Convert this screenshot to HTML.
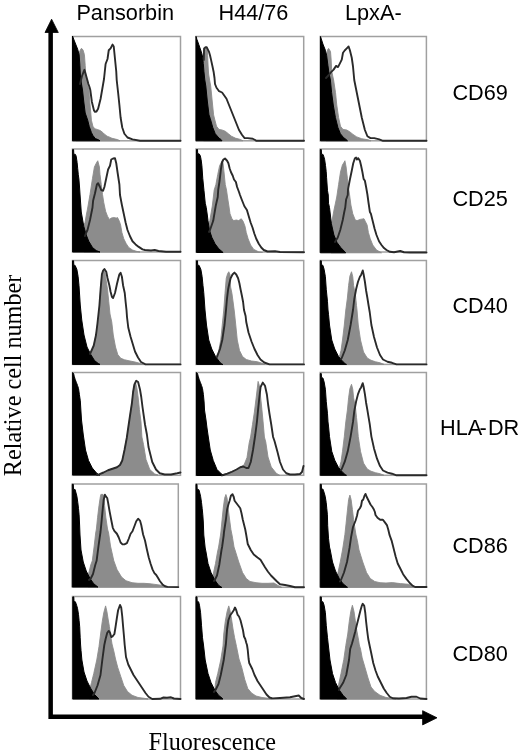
<!DOCTYPE html>
<html><head><meta charset="utf-8"><style>
html,body{margin:0;padding:0;background:#fff;width:520px;height:751px;overflow:hidden}
svg{display:block;filter:grayscale(1)}
.s{font-family:"Liberation Sans",sans-serif;font-size:21.7px;fill:#000}
.r{font-family:"Liberation Serif",serif;font-size:24.2px;fill:#000}
.bx{fill:none;stroke:#a0a0a0;stroke-width:1.5}
.g{fill:#8c8c8c;stroke:#8c8c8c;stroke-width:0.9;stroke-linejoin:round}
.k{fill:#000;stroke:#000;stroke-width:1;stroke-linejoin:round}
.o{fill:none;stroke:#2a2a2a;stroke-width:1.9;stroke-linejoin:round;stroke-linecap:round}
</style></head><body>
<svg width="520" height="751" viewBox="0 0 520 751">
<text class="s" x="76.4" y="19.7">Pansorbin</text>
<text class="s" x="218.5" y="19.7">H44/76</text>
<text class="s" x="345" y="19.7">LpxA-</text>
<text class="s" x="452.4" y="99.5">CD69</text>
<text class="s" x="452.4" y="206.1">CD25</text>
<text class="s" x="452.4" y="312.5">CD40</text>
<text class="s" x="440" y="434.8">HLA</text><text class="s" x="479.5" y="434.8">-</text><text class="s" x="487.9" y="434.8">DR</text>
<text class="s" x="452.4" y="552.6">CD86</text>
<text class="s" x="452.4" y="661.3">CD80</text>
<text class="r" x="148.5" y="749.5">Fluorescence</text>
<text class="r" transform="translate(20.8,476.2) rotate(-90)" x="0" y="0">Relative cell number</text>
<!-- axes -->
<path d="M50.65,718.9 L50.65,30 M48.4,716.65 L424,716.65" stroke="#000" stroke-width="4.5" fill="none"/>
<path d="M51.6,19.2 L45,32.5 L58.3,32.5 Z" fill="#000" stroke="#000" stroke-width="0.8" stroke-linejoin="round"/>
<path d="M437,717.8 L422.6,710.7 L422.6,724.9 Z" fill="#000" stroke="#000" stroke-width="0.8" stroke-linejoin="round"/>
<!-- panels -->
<g id="boxes">
<rect class="bx" x="72.5" y="36.5" width="108" height="104.3"/>
<rect class="bx" x="196" y="36.5" width="107.7" height="104.3"/>
<rect class="bx" x="320.2" y="36.5" width="106.2" height="104.3"/>
<rect class="bx" x="72.5" y="149" width="108" height="103"/>
<rect class="bx" x="196" y="149" width="107.7" height="103"/>
<rect class="bx" x="320.2" y="149" width="106.2" height="103"/>
<rect class="bx" x="72.5" y="260.5" width="108" height="103.9"/>
<rect class="bx" x="196" y="260.5" width="107.7" height="103.9"/>
<rect class="bx" x="320.2" y="260.5" width="106.2" height="103.9"/>
<rect class="bx" x="72.5" y="372.5" width="108" height="102.8"/>
<rect class="bx" x="196" y="372.5" width="107.7" height="102.8"/>
<rect class="bx" x="320.2" y="372.5" width="106.2" height="102.8"/>
<rect class="bx" x="72.2" y="484" width="106.1" height="103.1"/>
<rect class="bx" x="196" y="484" width="107.7" height="103.3"/>
<rect class="bx" x="320.2" y="484" width="106.2" height="103.1"/>
<rect class="bx" x="72.5" y="596.5" width="108" height="102.5"/>
<rect class="bx" x="196" y="596.5" width="107.7" height="102.5"/>
<rect class="bx" x="320.2" y="596.5" width="106.2" height="102.5"/>
</g>
<!-- HISTOGRAMS -->
<g id="r3c1">
<path class="g" d="M89,364.4 L89,354 L90.75,353 L93.75,345.5 L96,335 L98.25,320 L99.75,305 L100.6,289.25 L101.9,274.25 L103.1,270.8 L103.75,270 L104.8,271.5 L105.6,276.75 L107.5,289.25 L108.75,301.75 L110,314 L111.75,322 L113.25,335 L115.5,347 L117.75,354.5 L120.75,358.25 L124.5,359.75 L129,360.8 L135,362 L139.5,363.2 L143,364.4 Z"/>
<path class="k" d="M72.5,364.4 L72.5,260.8 L73.6,260.8 L73.8,265.2 L75.1,265.4 L76.9,269.5 L78.1,276.5 L79,285.7 L80.25,305 L81.75,320 L84,335 L87,347 L90.75,354.5 L94.5,360.5 L98.25,363.5 L100,364.4 Z"/>
<path class="o" d="M90,354 L93.75,345.5 L96,335 L97.5,323 L99.4,305.5 L100.6,289.25 L101.9,274.25 L103.1,270.5 L104.4,269 L106.25,271.75 L107.5,278 L109.4,285.5 L110.6,291.75 L111.9,296.75 L113.1,298 L115,293 L116.9,284.25 L118.1,279.25 L119.4,274.25 L120.6,272.75 L121.9,276.75 L123.1,285.5 L124.75,293 L125.6,301.75 L126.5,310 L127,317 L128.25,327.5 L130.5,336.5 L132.75,344 L135,351.5 L138,357.5 L141,362 L145.5,364.4 L180.5,364.4"/>
</g>
<g id="r3c2">
<path class="g" d="M216,364.4 L216.25,356.5 L218.5,352 L220.75,340 L222.25,325 L223.75,310 L225,293.25 L226.25,278.25 L227.5,274 L228.75,271.75 L230,274.5 L230.6,287 L231.9,293.25 L233.1,302 L234.4,312 L235.75,325 L237.25,340 L239.5,350.5 L242.5,356.5 L246.25,359.5 L251.5,361 L257.5,361.75 L262,363.25 L265,364.4 Z"/>
<path class="k" d="M196.5,364.4 L196.5,260.8 L197.5,260.8 L197.7,265.2 L199.1,265.4 L200.9,269.5 L202.1,276.5 L203,285.7 L203.75,292.5 L205,310 L206.5,325 L208.75,340 L211.75,349 L215.5,356.5 L220,362.5 L222.25,364.4 L223,364.4 Z"/>
<path class="o" d="M217,357 L217.75,355 L220,349 L222.25,340 L224.5,325 L226,310 L226.9,299.5 L228.1,289.5 L229.4,283.25 L230.6,278.25 L232.5,274.5 L234.4,272.6 L236.25,274.5 L238.1,278.25 L239.4,283.25 L240.6,289.5 L241.9,295.75 L243.1,302 L244,310 L245.6,316 L246.25,322 L248.5,332.5 L251.5,341.5 L254.5,349 L257.5,355 L260.5,359.5 L264.25,362.5 L269.5,364.4 L304,364.4"/>
</g>
<g id="r3c3">
<path class="g" d="M339,364.4 L339.5,356.5 L341,350.5 L342.5,340 L344.3,325 L345.8,310 L347.4,298 L348.6,285.5 L349.9,276.1 L351.5,271.75 L352.75,276.75 L353.6,285.5 L355.5,295.5 L356.5,305.5 L357,310 L358.25,325 L360.5,340 L363.5,352 L367.25,358 L371,360.25 L375.5,361.75 L380,362.8 L384,364.4 Z"/>
<path class="k" transform="translate(0.5,0)" d="M319.8,364.4 L319.8,260.8 L320.8,260.8 L321,264.9 L322.4,265.3 L323.6,269.25 L324.9,276.75 L325.75,289.25 L327,301.75 L327.5,310 L328,314.25 L329,325 L331.25,340 L334.25,349 L338,356.5 L342.5,361.75 L345.5,364.4 L346,364.4 Z"/>
<path class="o" d="M341,359 L341.75,358 L344.75,350.5 L347.75,340 L350.6,325 L353,310 L354.25,299.25 L356.1,289.25 L358,281.75 L359.9,276.75 L361.1,274.9 L362.75,270.5 L363.6,274.25 L364.9,281.75 L366.1,290.5 L367.4,298 L368.6,305.5 L369.7,312 L371.4,325 L374,337 L377,347.5 L380,355 L383,359.5 L387.5,361.75 L392,362.8 L396.5,364.4 L426.5,364.4"/>
</g>
<g id="r4c1">
<path class="g" d="M100,475 L103.5,472.5 L108,470.25 L112.5,468.75 L117,467.25 L120,465 L122.25,460.5 L124.5,450 L126.75,438 L128.75,425.75 L130,415.75 L131.9,403.25 L133.1,392 L134.4,385 L135.6,383 L136.9,388.25 L138.1,397 L139.4,409.5 L141,422 L141.9,437 L143.5,444.5 L146,459.5 L149.75,469.5 L154.75,474 L158,475 Z"/>
<path class="k" d="M72.6,475 L72.6,372.6 L73.6,373.5 L74.2,376.2 L75.1,379.2 L76.3,382.3 L77.5,385.4 L78.5,388.5 L79.4,394.6 L80.3,400.8 L81.5,420 L83.3,435 L85.5,450 L88.5,460.5 L92.25,468 L96.75,473.25 L99,474.75 L100,475 Z"/>
<path class="o" d="M97,475 L99,474.3 L103.5,472.5 L108,470.25 L112.5,468.75 L117,467.25 L120,465 L122.25,460.5 L124.5,450 L126.75,438 L128.25,427.5 L130,415.75 L131.9,403.25 L133.1,392 L134.4,384.5 L136.25,380.75 L138.1,382 L140,389.5 L141.25,397 L142.5,407 L143.75,415.75 L145,424.5 L146.9,434.5 L148.5,447 L152.25,462 L156,469.5 L159.75,473.25 L164.75,474.5 L171,474.5 L177.25,473.25 L180.5,472.5"/>
</g>
<g id="r4c2">
<path class="g" d="M222,475.5 L224.5,474.3 L229,472.5 L235,470.25 L239.5,468 L244,465 L247,457.5 L249.25,442.5 L250.6,437 L252.5,424.5 L254.4,412 L256.25,397 L258.1,381.4 L259.4,385.75 L260.6,397 L261.9,409.5 L263.1,422 L264.4,437 L265.75,442 L268,457 L271.25,467 L276.25,473.25 L280,475.5 Z"/>
<path class="k" d="M196.5,475.5 L196.5,372.6 L197.5,373.5 L198.2,376.2 L199.1,379.2 L200.3,382.3 L201.5,385.4 L202.5,388.5 L203.4,394.6 L204.1,402 L204.5,410 L206,420 L207,428 L208,435 L210.25,450 L213.25,460.5 L217,469.5 L221.5,474 L223.75,475.2 L224,475.5 Z"/>
<path class="o" d="M222,475.5 L223.75,474.75 L227.5,473.7 L232,471.75 L236.5,469.5 L240.25,467.25 L243.25,466.5 L246.25,468 L248.5,468 L250.75,462 L253,450 L255.25,435 L256.9,422 L258.1,409.5 L259.4,397 L260.6,387 L262.75,382.6 L265,385.75 L266.9,394.5 L268.1,404.5 L269.4,413.25 L271.25,424.5 L273.1,437 L274.5,441 L277.5,452 L280,462 L283,469.5 L286.25,473.25 L290,474.5 L295,474.5 L300,474 L302,472 L303.5,466"/>
</g>
<g id="r4c3" transform="matrix(1,0,0,0.982,0,117.46)">
<use href="#r3c3"/>
</g>
<g id="r5c1">
<path class="g" d="M88,587 L88,576 L88.5,574 L90.75,565 L92.3,560.8 L94.2,546 L95.7,533 L96.4,529 L97.6,517.3 L99,505.6 L100.3,497 L100.9,494.4 L103,494.4 L104,497 L104.6,505.6 L105.8,517.3 L107.5,529 L108.6,533 L110.5,546 L113.8,560.8 L117,569.5 L121.5,577 L126,580.75 L132,582.7 L138,583.3 L144,583.3 L150,583.75 L155,584.4 L161,585.2 L166,586.3 L168,587 Z"/>
<path class="k" d="M72.3,587 L72.3,484.3 L73.3,484.3 L73.5,489.3 L75.1,489.5 L76.9,496.3 L77.8,502.5 L78.5,508.6 L79.1,514.8 L79.6,525 L80,535 L81,550 L83.25,562 L86.25,571 L90,578.5 L93.75,583.75 L97.5,586.75 L98,587 Z"/>
<path class="o" d="M89,580 L90.75,578.5 L93,574 L95.25,565 L96.6,560.8 L98.5,546 L100.5,532 L101.4,523.1 L102.5,511.4 L103.7,499.7 L104.9,494.7 L106.25,496.9 L107.2,498 L108.1,502.6 L109.6,511.4 L111.3,520.2 L112.8,527.8 L114.3,530.8 L116.9,533.75 L118.75,537.5 L120.6,542.5 L122.5,544.4 L124.4,544.4 L126.9,543.1 L128.75,538.75 L130.6,533.75 L132.5,531.25 L134.4,526.25 L136.25,521.25 L138.1,518.75 L140,520.6 L141.25,525 L143.1,534.5 L145,540.5 L146.9,549.5 L148.75,557.5 L150.6,563.75 L152.5,569.4 L154.4,573.1 L156.25,575 L158.1,578.1 L160,581.25 L162.5,584.4 L165,586.25 L167.5,586.9 L178.3,587.1"/>
</g>
<g id="r5c2">
<path class="g" d="M212,587.5 L212.5,578 L213.25,574 L215.5,563.5 L217.5,552 L218.6,547 L220.5,535 L220.9,532 L222.1,519.5 L223.4,507 L224.6,498.25 L225.9,494.5 L227.1,498.25 L228,507 L229.25,517 L230.9,529.5 L232,535 L232.6,538.25 L234,547 L235,550 L238.75,562 L242.5,572.5 L246.25,578.5 L250,581.5 L256,582.7 L262,583.3 L268,583.3 L274,583 L278,585.5 L282,587.5 Z"/>
<path class="k" d="M196,587.5 L196,484.3 L197,484.3 L197.2,489.3 L198.6,489.5 L199.1,490.2 L200.6,496.3 L201.5,502.5 L202.2,508.6 L202.8,514.8 L203.3,522 L203.8,535 L205.2,548 L206,552 L208,563.5 L211,572.5 L214.75,580 L218.5,585.25 L221.5,587.2 L222,587.5 Z"/>
<path class="o" d="M214,581 L214.75,580 L217,575.5 L219.25,565 L221.5,550 L222.1,547 L223.75,535 L224,532 L225.9,519.5 L227.1,509.5 L228.4,504.5 L229.6,500.75 L230.9,495.75 L232.5,494.25 L233.75,497 L234.6,500.75 L236.5,503.25 L238.4,505.75 L240.25,508.25 L241.5,513.25 L242.75,519.5 L244,524.5 L245.25,529.5 L246.25,535 L247.75,544 L250.75,550 L253.75,554.5 L257.5,557.5 L260.5,559.75 L262.75,563.5 L265,567.25 L268,571.75 L271,575.5 L274,578.5 L277,581.5 L280,584.25 L285,585 L290,586 L295,587.25 L304,587.3"/>
</g>
<g id="r5c3">
<path class="g" d="M337,587.3 L338,572.5 L340.25,562 L342.5,550 L343,547 L344.9,534.5 L346.1,523.25 L347.4,510.75 L348.6,499.5 L349.9,495.1 L351.1,499.5 L352.4,509.5 L353.6,519.5 L355.5,532 L356,535 L357.4,540.75 L359,550 L362.75,562 L366.5,572.5 L370.25,578.5 L374.75,581.5 L380,582.7 L386,583 L392.3,582.6 L400.4,583.6 L408.5,584.3 L412.5,586.3 L415,587.3 Z"/>
<path class="k" transform="translate(0.5,0)" d="M319.8,587.3 L319.8,484.3 L320.8,484.3 L321,489 L322.5,489.2 L322.9,490.2 L324.7,496.3 L325.7,502.5 L326.3,508.6 L326.9,514.8 L327.2,525.75 L328,538.25 L329,547 L329.75,550 L332,562 L335,571 L338.75,578.5 L342.5,583.75 L346.25,586.75 L347,587.3 Z"/>
<path class="o" d="M340,581.5 L341,580 L344,572.5 L347,562 L349.5,548 L351.1,537 L353,527 L355.5,520.75 L357,515.75 L358,510.75 L359.9,508.25 L361.1,505.75 L362,500.75 L363.25,499.5 L364.5,495.75 L365.5,493.9 L366.75,497 L368,499.5 L369.25,502 L370.5,504.5 L372.4,507 L373.6,508.9 L374.9,512 L375.5,515 L377.5,517.7 L380.2,519.7 L382.9,519.7 L384.9,522.4 L386.9,525.1 L388.3,529.8 L389.6,535.2 L391.6,540.6 L393,546 L394.3,551.3 L395.7,556.7 L397.7,563.5 L400.4,568.8 L403.1,574.2 L406.4,578.9 L409.8,583 L412.5,585.7 L415.2,587 L426.5,587"/>
</g>
<g id="r6c1">
<path class="g" d="M89,699 L90,688.5 L91.5,682.5 L93.75,673.5 L96.75,660 L99,646.5 L100.6,634 L102.25,621.5 L103.75,612.75 L105.6,605.9 L106.9,611.5 L108.1,619 L109.4,626.5 L110.6,635.25 L112,644 L114,652 L115.5,659 L117.75,667.5 L120.75,676.5 L123.75,685.5 L127.5,691.5 L132,695.25 L138,697.5 L144,698.25 L148,699 Z"/>
<path class="k" d="M72.8,699 L72.8,596.9 L73.8,596.9 L74,601.6 L75.4,601.8 L76.6,605.2 L77.5,608.3 L78.5,614.5 L79.1,620.6 L79.7,626.8 L80.2,637.75 L80.6,645 L81,650.25 L81.9,660 L84,672 L87,681 L90.75,688.5 L94.5,694.5 L98.25,698.25 L99,699 Z"/>
<path class="o" d="M93,695 L94.5,693 L97.5,685.5 L100.5,675 L102.3,660 L104.3,645 L105.6,639 L107.25,632.75 L108.75,630.9 L110,632.75 L111.25,637.1 L112.5,636.5 L114.4,634 L115.6,626.5 L116.9,617.75 L118.1,610.25 L120,605 L121.25,607.75 L122.25,616.5 L123.1,626.5 L124,636.5 L124.7,645 L126,657 L128.25,664.5 L131.25,670.5 L133.5,675 L136.5,679.5 L139.5,684 L142.5,688.5 L145.5,693 L148.5,696.75 L152.25,699 L160,698.8 L163.5,697.5 L167,697.8 L171,697.3 L174,698.5 L180.5,699"/>
</g>
<g id="r6c2">
<path class="g" d="M214,699 L215.5,682.5 L217.75,673.5 L220.75,660 L223,646 L223.75,634 L225.25,621.5 L227.1,611.5 L228.75,605.9 L230.25,611.5 L231.5,619 L233,629 L234.6,637.75 L236.5,646.5 L239,659 L241.75,667.5 L244.75,679.5 L247.75,688.5 L251.5,693 L256,696 L262,697.5 L268,698.25 L272,699 Z"/>
<path class="k" d="M196,699 L196,596.9 L197,596.9 L197.2,601.6 L198.6,601.8 L199.5,605.25 L200.6,612.75 L201.5,625.25 L202.5,637.75 L203.5,645 L204.3,652 L205.2,660 L208,673.5 L211,682.5 L214.75,690 L218.5,695.25 L222.25,698.25 L223,699 Z"/>
<path class="o" d="M214,692 L215.5,690 L218.5,684 L220.75,675 L223.75,660 L225.9,644 L227.1,629 L228.4,620.25 L230.25,615.25 L232.1,612.75 L233.75,610.25 L235,607.5 L236.25,610.25 L237.5,614.6 L239,616.5 L240.5,620.25 L241.75,625.25 L243,630.25 L244,636.5 L245.25,639 L246.25,642.75 L247,645 L247.75,650 L248.6,659 L249.25,663 L252.25,669 L254.5,675 L257.5,681 L260.5,685.5 L263.5,690 L266.5,694.5 L269.5,697.5 L272.5,698.4 L280,698 L290,697.25 L296.25,696 L298.75,695.5 L301.25,698 L304,699"/>
</g>
<g id="r6c3">
<path class="g" d="M337,699 L338.75,684 L341,673.5 L343.8,659.5 L345.8,645.5 L347.75,634 L349.25,621.5 L350.75,611.5 L352.4,605.25 L354,611.5 L355.25,620.25 L356.75,630.25 L358.6,640.25 L359.3,645 L360.5,649 L362.2,658 L365,667.5 L368,678 L371,687 L374.75,691.5 L380,695.25 L386,697.5 L392,698.25 L396,699 Z"/>
<path class="k" transform="translate(0.5,0)" d="M319.8,699 L319.8,596.9 L320.8,596.9 L321,601.6 L322.4,601.8 L323.6,605.25 L324.9,612.75 L325.75,625.25 L327,637.75 L327.8,645 L328.6,652 L329.5,660 L332,673.5 L335,682.5 L338.75,690 L342.5,695.25 L345.5,698.25 L346,699 Z"/>
<path class="o" d="M339,690 L339.5,688.5 L343.25,682.5 L346.25,675 L349,660 L350.2,649 L352,643.5 L353.6,637.75 L355.25,631.5 L356.75,625.25 L358,620.25 L359.25,615.25 L360.5,610.25 L361.75,605.9 L362.75,603.75 L364.25,605.9 L365.25,612.75 L366.1,621.5 L367.1,630.25 L368.25,639 L369.5,645 L371,652 L373.25,663 L375.5,670.5 L377.75,676.5 L380.75,682.5 L383.75,688.5 L386.75,693 L389.75,696.75 L392.75,698.25 L399,698.5 L406.5,698 L411.5,696.75 L416.5,696.75 L420.25,698.5 L426.5,699"/>
</g>

<g id="r1c2">
<path class="g" d="M203.5,140.8 L203.9,50 L205,48 L206.8,47.3 L207.4,50 L207.6,55.3 L208.1,66 L208.6,74 L209.6,80 L210.7,86 L212.2,101 L213.6,114.9 L214.6,119 L216.5,126.25 L219,129.4 L222.1,130 L225.25,131.25 L228.4,133.75 L231.5,136.25 L235.25,138.1 L240.25,139.4 L243,140.8 Z"/>
<path class="k" d="M196,140.8 L196,36.4 L196.9,39.3 L198.8,44.6 L200.7,50 L202,54.2 L202.8,58 L203.3,63.3 L203.9,71.3 L204.8,80 L205.8,86 L207.3,101 L209,114.9 L210.25,118.5 L212.75,127.5 L215.25,133.75 L219,138.1 L220.9,139.4 L222,140.8 Z"/>
<path class="o" d="M203.8,60 L204,52 L204.1,48.4 L205.5,47.3 L206.8,47.3 L208.9,51.6 L210,55.3 L211,59.6 L212.4,66 L213.7,72.3 L214.5,78 L215,84 L216.5,87.75 L219.1,91.2 L222.1,92.5 L223.7,94.7 L226.5,98.75 L229,105 L231.5,111.25 L234,117.5 L236.5,123.75 L239,130 L242.1,135 L244.6,138.1 L247.75,138.1 L252.75,138.75 L256.5,140.8 L304,140.8"/>
</g>
<g id="r1c3">
<path class="g" d="M326,140.8 L326,58 L327.5,50 L328.6,48.4 L330.5,51.5 L331.1,59 L331.75,71.5 L333.6,80 L335.5,92.5 L336.75,105 L338.6,117.5 L340.5,126.25 L343,129.4 L346.75,130 L349.9,131.9 L353,134.4 L356.75,136.9 L361.75,138.75 L368,139.75 L371,140.8 Z"/>
<path class="k" transform="translate(0.5,0)" d="M320,140.8 L320,36.5 L322.4,44 L324.9,50.25 L326.1,55.25 L327.4,65.25 L328.3,72 L329.9,80 L331.1,92.5 L332.75,105 L334.9,117.5 L337.4,127.5 L339.9,133.75 L343,137.5 L345.5,139.4 L347,140.8 Z"/>
<path class="o" d="M326,78 L328.6,75.25 L331.1,72.1 L333.6,69.6 L336.1,65.9 L338,67.1 L339.9,63.4 L341.75,59.6 L343,52.75 L344.9,50.25 L346.75,48.4 L348.6,46.5 L349.9,50.25 L351.75,57.75 L353,66.5 L354.25,80 L356.75,92.5 L359.25,105 L361.75,117.5 L364.9,130 L367.4,136.25 L370.5,138.1 L374.25,138.1 L379.25,139.4 L383,140.8 L426.5,140.8"/>
</g>
<g id="r2c1">
<path class="g" d="M84,252 L84,224 L85,222.5 L86.5,214 L87.5,209 L90,194.5 L92.5,178.25 L94.4,167 L96.25,163.25 L97.75,160.75 L99.4,167 L100,174.5 L101.25,184.5 L102.5,194.5 L103.75,202.5 L105.6,211.25 L107.5,216.25 L109.4,219.4 L111.25,218.1 L113.75,217.5 L116.25,218.1 L117.5,217.5 L119.4,221.25 L120.6,225 L121.9,232.5 L123.75,238.75 L126.25,243.75 L128.75,247.5 L132.5,250 L136.25,251.25 L140,252 Z"/>
<path class="k" d="M72.6,252 L72.6,149.6 L73.6,149.6 L73.8,154.2 L75.4,154.4 L76.2,156.2 L77.1,162.4 L77.7,168.5 L78.3,174.7 L78.9,179 L79.6,188 L80.2,197 L81.25,212 L83.75,226.25 L86.25,235 L88.75,241.25 L92.5,247.5 L96.25,250.6 L100,252 Z"/>
<path class="o" d="M85,236 L86.25,232.5 L87.5,230 L90,220 L92.5,207.5 L93.1,200.75 L95,193.25 L96.9,184.5 L98.1,183.25 L100,187 L101.25,190.1 L103.1,190.75 L104.4,187 L106.25,178.25 L108.1,169.5 L110,165.75 L111.25,159.5 L113.1,158.5 L115,158.25 L116.25,163.25 L117.5,172 L119.4,184.5 L120,195 L121.9,205 L123.75,213.75 L125.6,222.5 L127.5,230 L130,236.25 L132.5,241.25 L135.6,244.4 L138.75,246.9 L142.5,249.4 L145,250 L151,250.5 L154.75,250 L158.5,251 L166,251.75 L180.5,251.75"/>
</g>
<g id="r2c2">
<path class="g" d="M207,252.5 L208,226 L209.8,220.8 L212.3,206 L214.2,190 L215.9,184.5 L217.75,174.5 L219.6,165.75 L221.5,162 L222.75,160.75 L224,172 L225.25,184.5 L226.5,190 L227.5,197 L228.9,206 L230,213.75 L231.9,218.75 L233.75,220.6 L236.25,220 L238.75,220.6 L241.25,218.75 L243.1,221.25 L245,226.25 L246.25,232.5 L248.1,238.75 L250.6,245 L253.75,249.4 L258.75,251.9 L262.5,252.5 Z"/>
<path class="k" d="M196.5,252.5 L196.5,149.5 L197.5,149.5 L197.7,153.7 L199.2,153.9 L200.3,155.75 L201.1,159.5 L201.9,165.75 L202.75,178.25 L204,190.75 L205.25,203.25 L206.25,207.5 L207.3,215 L208,220.8 L209.4,230 L211.9,237.5 L215,243.75 L218.75,248.75 L223.1,252.5 Z"/>
<path class="o" d="M209,232 L210,230 L213.2,220.8 L215.7,206 L217.75,197 L218.2,190 L219.6,180.75 L220.9,169.5 L222.1,162 L223.4,159.5 L225,158.5 L227.1,160.75 L228.4,163.25 L229.6,168.25 L230.9,172 L232.75,175.75 L234,179.5 L235.9,182 L237.1,187 L239,192 L240,195 L241.9,200 L244.4,206.25 L246.9,210 L248.75,216.25 L250.6,222.5 L252.5,227.5 L254.4,233.75 L256.25,238.75 L258.75,243.75 L261.25,247.5 L263.75,250 L267.5,251.5 L275,251.25 L280,252 L304,252.2"/>
</g>
<g id="r2c3">
<path class="g" d="M331,252.8 L331.5,223.75 L334,210 L336.75,197 L338.6,184.5 L340.5,172 L342.4,165.1 L344.25,162 L344.9,160.75 L346.1,167 L347.4,178.25 L348.6,188.25 L349.6,195 L350.9,205 L352.75,213.75 L355.25,220 L357.1,220.6 L360.25,219.4 L364,218.75 L365.25,221.25 L367.1,225 L368.4,232.5 L370.25,238.75 L372.75,245 L376.5,250 L381.5,252.8 Z"/>
<path class="k" transform="translate(0.5,0)" d="M319.8,252.8 L319.8,149.5 L320.8,149.5 L321,154.2 L322.5,154.4 L323.2,156.2 L324.1,159.3 L325,165.5 L325.7,171.6 L326.1,177.8 L327,190.75 L327.75,195 L328,203.25 L329,207.5 L330.9,223.75 L333.4,235 L336.5,242.5 L340.25,247.5 L345.25,252.8 Z"/>
<path class="o" d="M335,242 L335.9,240.6 L337.75,237.5 L340.25,230 L342.75,220 L344.25,212 L345.25,207.5 L346.1,199.5 L347.75,195 L348,189.5 L349.9,179.5 L351.75,170.75 L353.25,163.25 L354.9,158.25 L356.1,157.6 L357,159.5 L358.25,158.25 L359.9,160.75 L361.1,165.75 L362.4,172 L363.6,178.9 L364.9,180.75 L366.1,187 L367.4,194.5 L368.6,203.25 L369.9,212 L370.9,213.75 L372.75,221.25 L374.6,228.75 L376.5,235 L379,241.25 L381.5,245 L384,248.1 L386.5,250 L390,251.8 L394,252.25 L400.25,251 L404,252.25 L410,252.5 L426.5,252.5"/>
</g>

<g id="r1c1">
<path class="g" d="M76,140.8 L76,60 L79.5,52 L80.5,49.5 L81.5,48.3 L83,50 L84.4,54.6 L85.2,65.3 L85.6,72 L86.5,80 L88.9,90 L89.8,102 L90.8,113 L91.4,120.2 L92.9,126.3 L94.8,128.8 L97.2,129.4 L100.3,130.6 L102.8,132.5 L104.6,134.3 L107.1,136.2 L110.2,137.4 L112,138.3 L117.5,139.6 L120,140.8 Z"/>
<path class="k" d="M72.5,140.8 L72.5,36 L74,40 L75.6,44 L77.7,49.3 L79.1,54.6 L79.9,65.3 L80.4,76 L81.5,84 L82.5,90 L83.8,102 L85.2,113 L87.7,120.2 L89.2,126.3 L91.4,132.5 L92.9,135.5 L95.4,138.6 L98.5,139.8 L100,140.8 Z"/>
<path class="o" d="M80,84 L82,76 L84.4,69.8 L86.2,76 L88.4,84 L89.5,87 L90.3,90 L91.9,102 L94,110.5 L95,111.9 L96.5,111.5 L98.1,108.75 L100.6,98.75 L102.75,86.25 L104,79 L105.6,64 L107.5,59 L108.75,50.25 L110.6,48.4 L112.5,44.6 L113.75,46.5 L115,59 L116.25,71.5 L116.7,80 L118.1,92.5 L119.4,105 L120.6,117.5 L122.25,127.5 L124.4,133.75 L127.5,137.5 L132.5,139.4 L140,140.8 L180.5,140.8"/>
</g>

</svg>
</body></html>
